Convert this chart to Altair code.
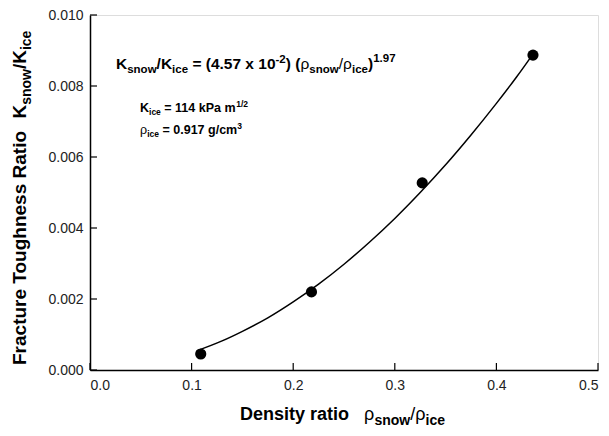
import altair as alt
import pandas as pd

# ---- data ----
density_ratio = [0.109, 0.218, 0.327, 0.436]
toughness_ratio = [0.00045, 0.0022, 0.00527, 0.00887]

curve_x = [0.105, 0.13, 0.15, 0.175, 0.2, 0.225, 0.25, 0.275, 0.3, 0.325, 0.35, 0.375, 0.4, 0.42, 0.436]
curve_y = [0.00054, 0.00082, 0.00109, 0.00147, 0.00192, 0.00242, 0.00298, 0.00360, 0.00427, 0.00500, 0.00578, 0.00662, 0.00751, 0.00826, 0.00890]

x_ticks = [0.0, 0.1, 0.2, 0.3, 0.4, 0.5]
y_ticks = [0.000, 0.002, 0.004, 0.006, 0.008, 0.010]

W, H = 508, 355
FONT = "Liberation Sans"

# Arial-metric advance widths (per 1000 em) used for placing sub/superscripts
REG = {' ': 278, '(': 333, ')': 333, '.': 278, '/': 278, '=': 584, '-': 333, 'x': 500, 'K': 667,
       's': 500, 'n': 556, 'o': 556, 'w': 722, 'i': 222, 'c': 500, 'e': 556, 'a': 556, 'P': 667,
       'm': 833, 'g': 556, 'k': 500, 'ρ': 578}
BOLD = {' ': 278, '(': 333, ')': 333, '.': 278, '/': 278, '=': 584, '-': 333, 'x': 556, 'K': 722,
        's': 556, 'n': 611, 'o': 611, 'w': 778, 'i': 278, 'c': 556, 'e': 556, 'a': 556, 'P': 667,
        'm': 889, 'g': 611, 'k': 556, 'D': 722, 'y': 556, 't': 333, 'r': 389, 'F': 611, 'u': 611,
        'T': 611, 'h': 611, 'R': 722, 'ρ': 611}


def width(text, size, bold):
    table = BOLD if bold else REG
    return sum(table.get(ch, 556) for ch in text) * size / 1000.0


def run(pieces, x0, y0, angle=0):
    rows = []
    pos = 0.0
    for p in pieces:
        if p[0] is None:
            pos += p[1]
            continue
        text, size, bold, shift = p
        lead = len(text) - len(text.lstrip(' '))
        trail = len(text) - len(text.rstrip(' '))
        pos += width(' ' * lead, size, bold)
        core = text.strip(' ')
        if angle == 0:
            rows.append(dict(t=core, px=x0 + pos, py=y0 - shift, fs=size, b=bold, a=0))
        else:
            rows.append(dict(t=core, px=x0 - shift, py=y0 - pos, fs=size, b=bold, a=270))
        pos += width(core, size, bold) + width(' ' * trail, size, bold)
    return rows


B, N = True, False
rows = []
rows += run([("K", 15.5, B, 0), ("snow", 11.5, B, -4), ("/", 15.5, B, 0), ("K", 15.5, B, 0), ("ice", 11.5, B, -4),
             (" = (4.57 x 10", 15.5, B, 0), ("-2", 11.5, B, 6), (") (", 15.5, B, 0), ("ρ", 15.5, N, 0),
             ("snow", 11.5, B, -4), ("/", 15.5, N, 0), ("ρ", 15.5, N, 0), ("ice", 11.5, B, -4), (")", 15.5, B, 0),
             ("1.97", 11.5, B, 7)], 26, 54)
rows += run([("K", 12.5, B, 0), ("ice", 8.5, B, -3), (" = 114 kPa m", 12.5, B, 0), ("1/2", 8.5, B, 5)], 50, 97)
rows += run([("ρ", 12.5, N, 0), ("ice", 8.5, B, -3), (" = 0.917 g/cm", 12.5, B, 0), ("3", 8.5, B, 5)], 50, 119)
rows += run([("Density ratio", 18, B, 0), (None, 15), ("ρ", 18, N, 0), ("snow", 14, B, -5),
             ("/", 18, N, 0), ("ρ", 18, N, 0), ("ice", 14, B, -5)], 150, 405)
rows += run([("Fracture Toughness Ratio", 19, B, 0), (None, 11), ("K", 19, B, 0), ("snow", 14, B, -5),
             ("/", 19, B, 0), ("K", 19, B, 0), ("ice", 14, B, -5)], -64, 350, angle=270)
labels = pd.DataFrame(rows)

pts = pd.DataFrame({"x": density_ratio, "y": toughness_ratio})
fit = pd.DataFrame({"x": curve_x, "y": curve_y})

xs = alt.Scale(domain=[0, 0.5], nice=False, zero=False)
ys = alt.Scale(domain=[0, 0.01], nice=False, zero=False)

x_axis = alt.Axis(values=x_ticks, format=".1f", title=None, grid=False, ticks=False, tickSize=0,
                  labelPadding=8, labelFontSize=14, labelColor="#222", labelFont=FONT,
                  domainColor="black", domainWidth=1.5)
y_axis = alt.Axis(values=y_ticks, format=".3f", title=None, grid=False, ticks=False, tickSize=0,
                  labelPadding=7, labelFontSize=14, labelColor="#222", labelFont=FONT,
                  domainColor="black", domainWidth=1.5)

line = alt.Chart(fit).mark_line(color="black", strokeWidth=1.5, interpolate="monotone").encode(
    x=alt.X("x:Q", scale=xs, axis=x_axis),
    y=alt.Y("y:Q", scale=ys, axis=y_axis),
)
points = alt.Chart(pts).mark_circle(color="black", opacity=1, size=125).encode(
    x=alt.X("x:Q", scale=xs),
    y=alt.Y("y:Q", scale=ys),
)
xtick = alt.Chart(pd.DataFrame({"v": x_ticks})).mark_rule(color="black", strokeWidth=1.2).encode(
    x=alt.X("v:Q", scale=xs), y=alt.value(H), y2=alt.value(H - 7))
ytick = alt.Chart(pd.DataFrame({"v": y_ticks})).mark_rule(color="black", strokeWidth=1.2).encode(
    y=alt.Y("v:Q", scale=ys), x=alt.value(0), x2=alt.value(7))

text_layers = []
for bold in (True, False):
    for ang in (0, 270):
        sub = labels[(labels.b == bold) & (labels.a == ang)]
        if len(sub) == 0:
            continue
        text_layers.append(
            alt.Chart(sub).mark_text(align="left", baseline="alphabetic", font=FONT,
                                     fontWeight="bold" if bold else "normal", angle=ang,
                                     color="black").encode(
                x=alt.X("px:Q", scale=None), y=alt.Y("py:Q", scale=None),
                text="t:N", size=alt.Size("fs:Q", scale=None, legend=None))
        )

chart = alt.layer(line, points, xtick, ytick, *text_layers).properties(
    width=W, height=H,
    padding={"left": 90, "top": 15, "right": 11, "bottom": 66},
    autosize=alt.AutoSizeParams(type="none"),
    background="white",
).configure_view(stroke="black", strokeWidth=1.5).configure(font=FONT)

chart.save("out.html", embed_options={"renderer": "svg", "actions": False})
